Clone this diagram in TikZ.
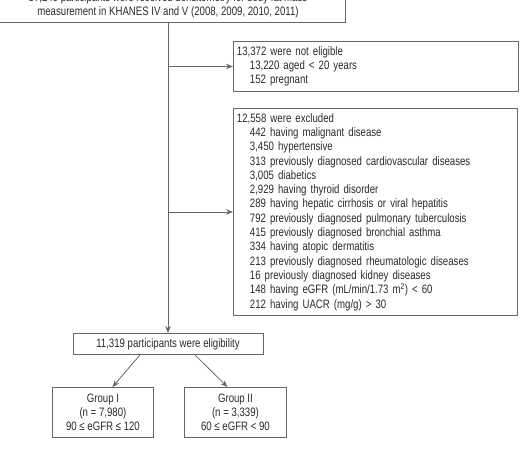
\documentclass[tikz,border=0pt]{standalone}
\usepackage{fontspec}
\setmainfont{Liberation Sans}[FakeStretch=0.79]
\usetikzlibrary{arrows.meta,calc}
\definecolor{txt}{HTML}{2a2a2a}
\definecolor{ln}{HTML}{666666}
\begin{document}
\begin{tikzpicture}[x=1pt,y=-1pt,
  font=\fontsize{12.2}{14.3}\selectfont,
  box/.style={draw=ln, line width=0.9pt, text=txt, inner xsep=3.5pt, inner ysep=2pt},
  arr/.style={draw=ln, line width=0.8pt, -{Stealth[length=7pt,width=5.5pt]}}]
\useasboundingbox (0,0) rectangle (524,448);
\clip (0,0) rectangle (524,448);
\newcommand{\ind}{\hspace*{13pt}}
\node[box, anchor=south, minimum width=354pt, minimum height=34pt, align=center, inner ysep=3pt] (top) at (168,22.7)
  {37,249 participants were received densitometry for body fat mass\\measurement in KHANES IV and V (2008, 2009, 2010, 2011)};
\node[box, anchor=north west, text width=278pt, minimum height=50pt, align=left] (ne) at (233,41)
  {13,372 were not eligible\\\ind 13,220 aged < 20 years\\\ind 152 pregnant};
\node[box, anchor=north west, text width=277pt, minimum height=207pt, align=left] (ex) at (233,108)
  {12,558 were excluded\\
   \ind 442 having malignant disease\\
   \ind 3,450 hypertensive\\
   \ind 313 previously diagnosed cardiovascular diseases\\
   \ind 3,005 diabetics\\
   \ind 2,929 having thyroid disorder\\
   \ind 289 having hepatic cirrhosis or viral hepatitis\\
   \ind 792 previously diagnosed pulmonary tuberculosis\\
   \ind 415 previously diagnosed bronchial asthma\\
   \ind 334 having atopic dermatitis\\
   \ind 213 previously diagnosed rheumatologic diseases\\
   \ind 16 previously diagnosed kidney diseases\\
   \ind 148 having eGFR (mL/min/1.73 m\textsuperscript{2}) < 60\\
   \ind 212 having UACR (mg/g) > 30};
\node[box, anchor=north, minimum width=190pt, minimum height=21pt] (el) at (168,333)
  {11,319 participants were eligibility};
\node[box, anchor=north west, minimum width=101pt, minimum height=50pt, align=center] (g1) at (52,387)
  {Group I\\(n = 7,980)\\90 ≤ eGFR ≤ 120};
\node[box, anchor=north west, minimum width=102pt, minimum height=50pt, align=center] (g2) at (184,387)
  {Group II\\(n = 3,339)\\60 ≤ eGFR < 90};
\draw[arr] (top.south) -- (el.north);
\draw[arr] (top.south |- ne.west) -- (ne.west);
\draw[arr] (top.south |- ex.west) -- (ex.west);
\draw[arr] ($(el.south)+(-28,0)$) -- ($(g1.north)+(9.5,0)$);
\draw[arr] ($(el.south)+(27,0)$) -- ($(g2.north)+(-8,0)$);
\end{tikzpicture}
\end{document}
